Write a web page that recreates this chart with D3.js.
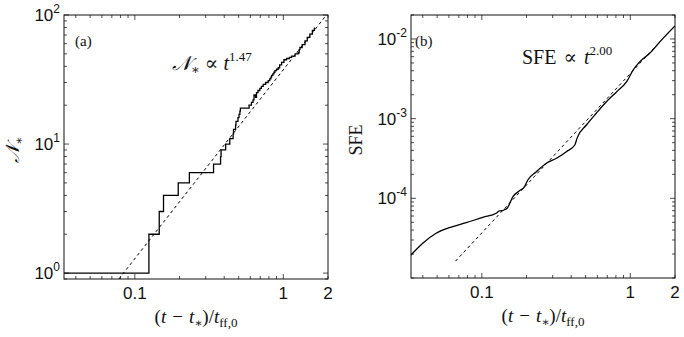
<!DOCTYPE html>
<html>
<head>
<meta charset="utf-8">
<script src="https://cdn.jsdelivr.net/npm/d3@7"></script>
<style>
  html, body { margin: 0; padding: 0; background: #fff; }
  svg { display: block; }
  .tick-label { font-family: "Liberation Sans", Arial, sans-serif; font-size: 17px; fill: #111; }
  .math { font-family: "Liberation Serif", "DejaVu Serif", serif; fill: #111; }
</style>
</head>
<body>
<div id="chart"></div>
<script>
// --- datos ---
// (a) numero de estrellas: tiempos de cada salto y valor despues del salto
const nStarT = [0.0333, 0.1244, 0.146, 0.156, 0.196, 0.233, 0.339, 0.378, 0.381, 0.409, 0.436,
  0.459, 0.462, 0.477, 0.480, 0.495, 0.503, 0.510, 0.514, 0.588, 0.61, 0.625, 0.635, 0.65,
  0.660, 0.675, 0.695, 0.712, 0.732, 0.76, 0.791, 0.81, 0.825, 0.834, 0.85, 0.865, 0.878,
  0.90, 0.924, 0.945, 0.974, 1.01, 1.052, 1.10, 1.137, 1.20, 1.26, 1.28, 1.294, 1.34, 1.40,
  1.45, 1.51, 1.57, 1.62];
const nStarN = [1, 2, 3, 4, 5, 6, 7, 8, 9, 10, 11,
  12, 13, 14, 15, 16, 17, 18, 19, 20, 21, 22, 24, 23,
  25, 26, 27, 28, 29, 30, 31, 32, 33, 34, 35, 36, 37,
  38, 39, 41, 43, 45, 46, 47, 48, 50, 51, 54, 56, 59, 63,
  67, 71, 76, 80];
// (b) SFE
const sfeT = [0.0333, 0.040, 0.0492, 0.0605, 0.0785, 0.1016, 0.125, 0.131, 0.137, 0.142, 0.148,
  0.162, 0.180, 0.194, 0.204, 0.233, 0.272, 0.318, 0.371, 0.423, 0.438, 0.506, 0.59, 0.69,
  0.81, 0.945, 1.045, 1.16, 1.35, 1.585, 2.0];
const sfeV = [1.94e-5, 2.73e-5, 3.64e-5, 4.28e-5, 4.94e-5, 5.78e-5, 6.49e-5, 6.95e-5, 7.0e-5, 7.2e-5, 7.5e-5,
  1.05e-4, 1.25e-4, 1.40e-4, 1.70e-4, 2.16e-4, 2.75e-4, 3.18e-4, 3.85e-4, 4.67e-4, 5.7e-4, 8.32e-4, 1.17e-3, 1.63e-3,
  2.18e-3, 2.91e-3, 4.08e-3, 5.19e-3, 6.61e-3, 9.25e-3, 1.46e-2];
// ajustes (extremos de la recta discontinua)
const fitNT = [0.078, 1.95];
const fitNV = [0.9, 100];
const fitSfeT = [0.0665, 1.585];
const fitSfeV = [1.63e-5, 9.25e-3];
// ejes
const xTicks = [0.1, 1, 2];
const xTickLabels = ["0.1", "1", "2"];
const nStarYTicks = [1, 10, 100];
const nStarYExp = ["0", "1", "2"];
const sfeYTicks = [1e-4, 1e-3, 1e-2];
const sfeYExp = ["-4", "-3", "-2"];

const width = 684, height = 337;
const svg = d3.select("#chart").append("svg")
  .attr("width", width).attr("height", height);

// pequeño ayudante para texto matematico con tspans
function mathText(sel, parts) {
  parts.forEach(p => {
    const ts = sel.append("tspan").text(p.t);
    if (p.i) ts.style("font-style", "italic");
    if (p.s) ts.style("font-size", p.s + "px");
    if (p.dx) ts.attr("dx", p.dx);
    if (p.dy) ts.attr("dy", p.dy);
  });
}

function drawPanel(opt) {
  const { x0, y0, w, h } = opt;
  const x = d3.scaleLog().domain([1 / 30, 2]).range([x0, x0 + w]);
  const y = d3.scaleLog().domain(opt.yDomain).range([y0 + h, y0]);
  const g = svg.append("g");

  const clipId = "clip-" + opt.id;
  svg.append("clipPath").attr("id", clipId)
    .append("rect").attr("x", x0).attr("y", y0).attr("width", w).attr("height", h);

  // ticks (dentro, en los cuatro lados)
  const majX = new Set(xTicks.filter(v => v < 2));
  const majY = new Set(opt.yTicks);
  const tk = g.append("g").attr("stroke", "#222").attr("stroke-width", 0.8);
  x.ticks().forEach(v => {
    const L = majX.has(v) ? 5 : 3;
    const px = x(v);
    tk.append("line").attr("x1", px).attr("x2", px).attr("y1", y0 + h).attr("y2", y0 + h - L);
    tk.append("line").attr("x1", px).attr("x2", px).attr("y1", y0).attr("y2", y0 + L);
  });
  y.ticks().forEach(v => {
    const L = majY.has(v) ? 5 : 3;
    const py = y(v);
    tk.append("line").attr("x1", x0).attr("x2", x0 + L).attr("y1", py).attr("y2", py);
    tk.append("line").attr("x1", x0 + w).attr("x2", x0 + w - L).attr("y1", py).attr("y2", py);
  });

  // curvas
  const line = d3.line().x(d => x(d[0])).y(d => y(d[1]));
  const dataPts = opt.t.map((t, i) => [t, opt.v[i]]);
  g.append("path")
    .attr("clip-path", `url(#${clipId})`)
    .attr("d", line.curve(opt.step ? d3.curveStepAfter : d3.curveMonotoneX)(dataPts))
    .attr("fill", "none").attr("stroke", "#000").attr("stroke-width", 1.3);

  const fitPts = opt.fitT.map((t, i) => [t, opt.fitV[i]]);
  g.append("path")
    .attr("clip-path", `url(#${clipId})`)
    .attr("d", d3.line().x(d => x(d[0])).y(d => y(d[1]))(fitPts))
    .attr("fill", "none").attr("stroke", "#000").attr("stroke-width", 1)
    .attr("stroke-dasharray", "3,3");

  // caja
  g.append("rect").attr("x", x0).attr("y", y0).attr("width", w).attr("height", h)
    .attr("fill", "none").attr("stroke", "#111").attr("stroke-width", 1);

  // etiquetas de ticks
  xTicks.forEach((v, i) => {
    g.append("text").attr("class", "tick-label")
      .attr("x", x(v)).attr("y", y0 + h + 20)
      .attr("text-anchor", "middle").text(xTickLabels[i]);
  });
  opt.yTicks.forEach((v, i) => {
    const t = g.append("text").attr("class", "tick-label")
      .attr("x", x0 - 4).attr("y", y(v) + 6).attr("text-anchor", "end");
    t.append("tspan").text("10");
    t.append("tspan").attr("dy", -8).style("font-size", "12px").text(opt.yExp[i]);
  });

  // titulo eje x
  const xl = g.append("text").attr("class", "math")
    .attr("x", x0 + w / 2).attr("y", y0 + h + 44)
    .attr("text-anchor", "middle").style("font-size", "19px");
  mathText(xl, [
    { t: "(" }, { t: "t", i: true }, { t: "−", dx: 6 }, { t: "t", i: true, dx: 6 },
    { t: "∗", s: 12, dy: 4 }, { t: ")/", dy: -4 }, { t: "t", i: true },
    { t: "ff,0", s: 13, dy: 4 }
  ]);

  // letra del panel
  g.append("text").attr("class", "math").attr("x", opt.letterX).attr("y", 46)
    .style("font-size", "15px").text(opt.letter);

  opt.decorate(g);
}

drawPanel({
  id: "a", x0: 64, y0: 15, w: 264, h: 264,
  yDomain: [0.9, 100], yTicks: nStarYTicks, yExp: nStarYExp,
  t: nStarT, v: nStarN, step: true,
  fitT: fitNT, fitV: fitNV,
  letter: "(a)", letterX: 75,
  decorate: g => {
    const yl = g.append("text").attr("class", "math")
      .attr("transform", "translate(19,150) rotate(-90)")
      .attr("text-anchor", "middle").style("font-size", "19px");
    mathText(yl, [{ t: "𝒩", i: true }, { t: "∗", s: 12, dy: 4 }]);

    const an = g.append("text").attr("class", "math")
      .attr("x", 172).attr("y", 70).style("font-size", "20px");
    mathText(an, [
      { t: "𝒩", i: true }, { t: "∗", s: 13, dy: 4 }, { t: "∝", dy: -4, dx: 5 },
      { t: "t", i: true, dx: 5 }, { t: "1.47", s: 13, dy: -9 }
    ]);
  }
});

drawPanel({
  id: "b", x0: 411, y0: 15, w: 264, h: 263,
  yDomain: [1e-5, 2e-2], yTicks: sfeYTicks, yExp: sfeYExp,
  t: sfeT, v: sfeV, step: false,
  fitT: fitSfeT, fitV: fitSfeV,
  letter: "(b)", letterX: 415,
  decorate: g => {
    g.append("text").attr("class", "math")
      .attr("transform", "translate(362,140) rotate(-90)")
      .attr("text-anchor", "middle").style("font-size", "18px").text("SFE");

    const an = g.append("text").attr("class", "math")
      .attr("x", 522).attr("y", 64).style("font-size", "20px");
    mathText(an, [
      { t: "SFE" }, { t: "∝", dx: 7 }, { t: "t", i: true, dx: 7 }, { t: "2.00", s: 13, dy: -9 }
    ]);
  }
});
</script>
</body>
</html>
